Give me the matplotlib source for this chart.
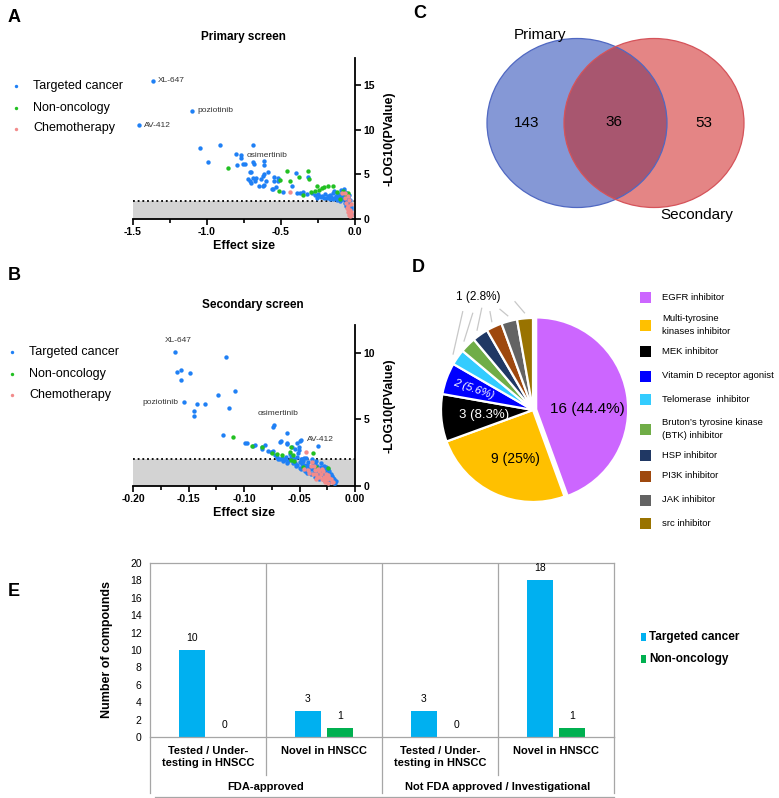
import matplotlib
matplotlib.use('Agg')
import matplotlib.pyplot as plt
from matplotlib.patches import Ellipse, Rectangle
import numpy as np

plt.rcParams['font.family'] = ['Liberation Sans', 'DejaVu Sans']
NARROW = ['Liberation Sans Narrow', 'Liberation Sans', 'DejaVu Sans']

# ---------------- data ----------------
# Panel A: primary screen (effect size, -log10 p)
a_t_x = [-1.367, -1.10, -1.46, -1.05, -0.91, -0.69, -0.99, -0.806, -0.77, -0.77, -0.795, -0.76, -0.74,
         -0.687, -0.685, -0.615, -0.617, -0.71, -0.70, -0.59, -0.615, -0.62, -0.725, -0.69, -0.67, -0.71,
         -0.70, -0.676, -0.633, -0.60, -0.547, -0.52, -0.55, -0.52, -0.65, -0.625, -0.615, -0.563, -0.534,
         -0.556, -0.484, -0.40, -0.424, -0.315, -0.394, -0.37, -0.35, -0.326, -0.29, -0.27, -0.25, -0.23,
         -0.22, -0.20, -0.19, -0.18, -0.17, -0.16, -0.15, -0.14, -0.13, -0.12, -0.12, -0.11, -0.10, -0.10,
         -0.09, -0.09, -0.08, -0.08, -0.07, -0.07, -0.065, -0.06, -0.06, -0.055, -0.05, -0.05, -0.045,
         -0.04, -0.04, -0.035, -0.03, -0.03, -0.14, -0.11, -0.095, -0.075,
         -0.26, -0.24, -0.21, -0.17, -0.15, -0.13, -0.11, -0.09, -0.075, -0.06, -0.055, -0.045, -0.04,
         -0.035, -0.032, -0.028, -0.025, -0.05]
a_t_y = [15.4, 12.1, 10.5, 7.9, 8.3, 8.25, 6.35, 7.3, 7.1, 6.8, 6.05, 6.2, 6.2,
         6.4, 6.1, 6.5, 6.0, 5.3, 5.2, 5.25, 5.0, 4.85, 4.5, 4.6, 4.6, 4.25,
         4.05, 4.2, 4.45, 4.3, 4.65, 4.6, 4.3, 4.3, 3.7, 3.65, 3.75, 3.4, 3.55,
         3.35, 3.05, 5.15, 3.7, 4.75, 2.9, 2.95, 3.0, 2.8, 2.9, 2.7, 2.85, 2.5,
         2.6, 2.8, 2.4, 2.6, 2.2, 2.5, 2.9, 2.3, 2.6, 2.1, 2.9, 2.4, 2.7, 2.0,
         2.5, 3.0, 2.2, 2.8, 1.8, 2.6, 3.0, 2.3, 1.5, 2.7, 2.0, 1.2, 2.5,
         1.6, 0.9, 2.1, 1.3, 0.6, 3.1, 2.2, 3.2, 3.3,
         2.3, 2.6, 2.3, 2.7, 2.2, 2.4, 2.7, 2.2, 2.5, 2.9, 2.1, 1.9, 2.7,
         1.5, 0.8, 1.1, 0.5, 1.6]
a_n_x = [-0.86, -0.507, -0.516, -0.46, -0.378, -0.32, -0.309, -0.35, -0.30, -0.24, -0.255, -0.223,
         -0.21, -0.18, -0.147, -0.12, -0.10, -0.08, -0.06, -0.05, -0.44, -0.27]
a_n_y = [5.75, 4.35, 3.15, 5.37, 4.65, 5.37, 4.5, 2.7, 3.0, 3.25, 3.7, 3.5,
         3.55, 3.7, 3.65, 3.0, 2.2, 3.1, 2.6, 2.9, 4.2, 3.1]
a_c_x = [-0.437, -0.09, -0.07, -0.06, -0.055, -0.05, -0.045, -0.04, -0.04, -0.035, -0.03, -0.03,
         -0.025, -0.05, -0.065, -0.035, -0.028, -0.045]
a_c_y = [3.0, 2.9, 2.3, 1.8, 1.2, 0.8, 1.5, 0.5, 2.1, 1.0, 0.4, 1.7,
         0.8, 2.6, 2.9, 0.3, 0.5, 1.1]
a_labels = ['XL-647', 'poziotinib', 'AV-412', 'osimertinib']
a_label_idx = [0, 1, 2, 8]

# Panel B: secondary screen
b_t_x = [-0.162, -0.116, -0.160, -0.157, -0.149, -0.157, -0.108, -0.123, -0.154, -0.142, -0.135,
         -0.145, -0.145, -0.1135, -0.073, -0.0736, -0.0616, -0.119, -0.0486, -0.052, -0.0505, -0.0667,
         -0.0676, -0.0616, -0.0336, -0.0988, -0.097, -0.090, -0.0916, -0.081, -0.084, -0.084, -0.078,
         -0.076, -0.074, -0.061, -0.057, -0.054, -0.0507, -0.0495,
         -0.070, -0.066, -0.062, -0.060, -0.058, -0.056, -0.055, -0.053, -0.052, -0.050, -0.049, -0.048,
         -0.046, -0.045, -0.044, -0.042, -0.041, -0.040, -0.039, -0.038, -0.037, -0.036, -0.035, -0.034,
         -0.033, -0.032, -0.031, -0.030, -0.029, -0.028, -0.027, -0.026, -0.025, -0.024, -0.023, -0.022,
         -0.021, -0.020, -0.019, -0.018, -0.064, -0.068, -0.043, -0.047, -0.072, -0.059, -0.051,
         -0.069, -0.065, -0.063, -0.061, -0.057, -0.054, -0.052, -0.050, -0.048, -0.047, -0.045, -0.043,
         -0.042, -0.040, -0.038, -0.037, -0.036, -0.034, -0.033, -0.031, -0.030, -0.029, -0.028, -0.027,
         -0.026, -0.025, -0.024, -0.023, -0.022, -0.021, -0.020, -0.019, -0.018, -0.017, -0.056, -0.049,
         -0.046]
b_t_y = [10.07, 9.7, 8.55, 8.7, 8.47, 7.95, 7.17, 6.85, 6.3, 6.2, 6.17,
         5.6, 5.26, 5.84, 4.6, 4.44, 4.0, 3.86, 3.43, 3.2, 2.9, 3.4,
         3.3, 3.15, 3.03, 3.26, 3.2, 3.06, 3.03, 3.06, 2.9, 2.75, 2.63,
         2.58, 2.63, 3.2, 2.9, 2.76, 2.7, 3.4,
         2.2, 2.1, 2.15, 1.9, 2.2, 1.7, 2.0, 1.5, 2.2, 1.8, 1.3, 2.0,
         1.6, 1.1, 2.1, 1.8, 1.4, 0.9, 2.0, 1.6, 1.2, 0.7, 1.9, 1.5,
         1.0, 0.5, 1.7, 1.3, 0.8, 1.5, 0.4, 1.1, 0.7, 1.3, 0.3, 0.9,
         0.5, 0.6, 0.2, 0.4, 1.95, 2.0, 0.95, 1.4, 2.3, 2.4, 2.5,
         2.05, 1.85, 2.0, 1.75, 1.95, 1.75, 1.55, 1.35, 1.65, 1.85, 1.45, 1.6,
         1.1, 1.25, 1.4, 0.95, 1.7, 1.15, 0.75, 1.45, 1.05, 0.55, 1.25, 0.85,
         1.45, 1.0, 0.5, 1.1, 0.35, 0.75, 0.4, 0.55, 0.25, 0.35, 2.1, 2.05,
         2.1]
b_n_x = [-0.110, -0.093, -0.084, -0.058, -0.0586, -0.0556, -0.038, -0.0706, -0.066, -0.055, -0.047,
         -0.024, -0.058, -0.035, -0.075]
b_n_y = [3.7, 3.03, 2.96, 2.93, 2.53, 2.3, 2.5, 2.38, 2.3, 1.9, 1.45,
         1.35, 1.95, 1.4, 2.5]
b_c_x = [-0.044, -0.042, -0.040, -0.038, -0.036, -0.034, -0.033, -0.031, -0.030, -0.029, -0.028, -0.027,
         -0.026, -0.025, -0.024, -0.023, -0.021, -0.046, -0.039, -0.035, -0.032,
         -0.041, -0.037, -0.035, -0.032, -0.030, -0.028, -0.026, -0.024, -0.022, -0.020]
b_c_y = [2.55, 1.2, 1.5, 0.9, 1.2, 0.7, 1.3, 0.9, 0.5, 1.1, 0.7, 0.3,
         0.9, 0.5, 0.2, 0.6, 0.3, 1.3, 1.8, 0.5, 1.1,
         0.95, 1.5, 0.9, 0.65, 1.25, 0.45, 0.65, 0.85, 0.5, 0.3]
b_labels = ['XL-647', 'poziotinib', 'osimertinib', 'AV-412']
b_label_idx = [0, 8, 14, 18]

legend_names = ['Targeted cancer', 'Non-oncology', 'Chemotherapy']

# Panel C: Venn counts
venn_sets = ['Primary', 'Secondary']
venn_counts = [143, 36, 53]   # primary only, both, secondary only

# Panel D: pie
d_names = ['EGFR inhibitor', 'Multi-tyrosine\nkinases inhibitor', 'MEK inhibitor',
           'Vitamin D receptor agonist', 'Telomerase  inhibitor',
           'Bruton\u2019s tyrosine kinase\n(BTK) inhibitor', 'HSP inhibitor', 'PI3K inhibitor',
           'JAK inhibitor', 'src inhibitor']
d_vals = [16, 9, 3, 2, 1, 1, 1, 1, 1, 1]
d_pct = ['44.4%', '25%', '8.3%', '5.6%', '2.8%', '2.8%', '2.8%', '2.8%', '2.8%', '2.8%']
d_colors = ['#cc66ff', '#ffc000', '#000000', '#0000ff', '#33ccff', '#70ad47',
            '#203864', '#9e480e', '#636363', '#997300']

# Panel E: grouped bars
e_cats = ['Tested / Under-\ntesting in HNSCC', 'Novel in HNSCC',
          'Tested / Under-\ntesting in HNSCC', 'Novel in HNSCC']
e_groups = ['FDA-approved', 'Not FDA approved / Investigational']
e_series = ['Targeted cancer', 'Non-oncology']
e_targeted = [10, 3, 3, 18]
e_nononc = [0, 1, 0, 1]

BLUE = '#1f80f5'
GREEN = '#22c022'
PINK = '#f28b8b'

W, H = 779, 798
fig = plt.figure(figsize=(W / 100, H / 100), dpi=100)


def px_axes(l, t, r, b):
    return fig.add_axes([l / W, 1 - b / H, (r - l) / W, (b - t) / H])


def volcano(ax, tx, ty, nx, ny, cx, cy, xlim, ylim, xticks, xtl, minor, yticks, labels, idx, offs):
    ax.add_patch(Rectangle((xlim[0], 0), xlim[1] - xlim[0], 2.0, facecolor='#d3d3d3', lw=0, zorder=0))
    ax.plot(xlim, [2.0, 2.0], color='black', ls=(0, (1, 1.6)), lw=1.3, zorder=1)
    ax.scatter(tx, ty, s=10, color=BLUE, lw=0, zorder=3)
    ax.scatter(nx, ny, s=10, color=GREEN, lw=0, zorder=3)
    ax.scatter(cx, cy, s=10, color=PINK, lw=0, zorder=4)
    for lab, i, (dx, dy, ha) in zip(labels, idx, offs):
        ax.annotate(lab, (tx[i], ty[i]), xytext=(dx, dy), textcoords='offset points',
                    ha=ha, va='center', fontsize=6, color='#333333')
    ax.set_xlim(*xlim)
    ax.set_ylim(*ylim)
    ax.set_xticks(xticks)
    ax.set_xticklabels(xtl, fontweight='bold', fontsize=7.5)
    ax.set_xticks(minor, minor=True)
    ax.set_yticks(yticks)
    ax.set_yticklabels([str(v) for v in yticks], fontweight='bold', fontsize=7.5)
    ax.yaxis.tick_right()
    ax.yaxis.set_label_position('right')
    for s in ['left', 'top']:
        ax.spines[s].set_visible(False)
    for s in ['right', 'bottom']:
        ax.spines[s].set_linewidth(1.3)
    ax.tick_params(which='both', direction='out', width=1.2, pad=2)
    ax.tick_params(which='major', length=4)
    ax.tick_params(which='minor', length=3)
    ax.set_xlabel('Effect size', fontweight='bold', fontsize=9, labelpad=2)
    ax.set_ylabel('-LOG10(PValue)', fontweight='bold', fontsize=9, labelpad=6)
    ax.patch.set_visible(False)


# Panel A
axA = px_axes(133, 58, 355, 219)
volcano(axA, a_t_x, a_t_y, a_n_x, a_n_y, a_c_x, a_c_y, (-1.5, 0.0), (0, 18.0),
        [-1.5, -1.0, -0.5, 0.0], ['-1.5', '-1.0', '-0.5', '0.0'], [-1.25, -0.75, -0.25],
        [0, 5, 10, 15], a_labels, a_label_idx,
        [(4, 0.5, 'left'), (4, 0, 'left'), (4, 0, 'left'), (4, 0, 'left')])

# Panel B
axB = px_axes(133, 325, 355, 486)
volcano(axB, b_t_x, b_t_y, b_n_x, b_n_y, b_c_x, b_c_y, (-0.2, 0.0), (0, 12.1),
        [-0.20, -0.15, -0.10, -0.05, 0.0], ['-0.20', '-0.15', '-0.10', '-0.05', '0.00'],
        [-0.175, -0.125, -0.075, -0.025],
        [0, 5, 10], b_labels, b_label_idx,
        [(2, 8, 'center'), (-4, 0, 'right'), (3, 8, 'center'), (4, 0.5, 'left')])

# Panel D pie
cxp, cyp, R = 533, 410, 92
axD = px_axes(cxp - 100, cyp - 100, cxp + 100, cyp + 100)
explode = [0.035] + [0] * 9
wedges, _ = axD.pie(d_vals, colors=d_colors, startangle=90, counterclock=False, explode=explode,
                    radius=1, wedgeprops=dict(edgecolor='white', linewidth=1.6))
axD.set_xlim(-100 / R, 100 / R)
axD.set_ylim(-100 / R, 100 / R)
axD.set_aspect('equal')
axD.axis('off')
fr = np.array(d_vals) / sum(d_vals)
cum = np.concatenate([[0], np.cumsum(fr)]) * 360


def pol(i, r):
    mid = (cum[i] + cum[i + 1]) / 2
    a = np.deg2rad(90 - mid)
    return r * np.cos(a), r * np.sin(a)


def pxp(px, py):
    return (px - cxp) / R, (cyp - py) / R


axD.text(*pxp(587, 409), f'{d_vals[0]} ({d_pct[0]})', fontsize=11, ha='center', va='center')
axD.text(*pxp(515, 459), f'{d_vals[1]} ({d_pct[1]})', fontsize=10, ha='center', va='center')
axD.text(*pxp(484, 415), f'{d_vals[2]} ({d_pct[2]})', fontsize=9.5, ha='center', va='center',
         color='white')
axD.text(*pxp(474, 389), f'{d_vals[3]} ({d_pct[3]})', fontsize=8, ha='center', va='center',
         color='white', rotation=-19, style='italic')
ends = [(462.7, 311.7), (472.7, 313.3), (481.7, 308.3), (490, 311.7), (500, 309.3), (515, 301.7)]
for k, i in enumerate(range(4, 10)):
    sx, sy = pol(i, 1.06)
    ex, ey = pxp(*ends[k])
    axD.plot([sx, ex], [sy, ey], color='#c8c8c8', lw=0.9, clip_on=False)

# Panel E bars
axE = px_axes(150, 563, 614, 737)
xs = np.arange(len(e_cats))
bw = 0.22
axE.bar(xs - 0.14, e_targeted, bw, color='#00b0f0', zorder=2)
axE.bar(xs + 0.14, e_nononc, bw, color='#00b050', zorder=2)
for xi, v in zip(xs, e_targeted):
    axE.text(xi - 0.14, v + 0.8, str(v), ha='center', va='bottom', fontsize=7.5, family=NARROW)
for xi, v in zip(xs, e_nononc):
    axE.text(xi + 0.14, v + 0.8, str(v), ha='center', va='bottom', fontsize=7.5, family=NARROW)
axE.set_xlim(-0.5, 3.5)
axE.set_ylim(0, 20)
axE.set_yticks(range(0, 21, 2))
axE.set_yticklabels([str(v) for v in range(0, 21, 2)], fontsize=7.5, family=NARROW)
axE.tick_params(axis='y', length=0, pad=6)
axE.set_xticks([])
for s in axE.spines.values():
    s.set_color('#a6a6a6')
    s.set_linewidth(0.9)
for xv in [0.5, 1.5, 2.5]:
    axE.axvline(xv, color='#a6a6a6', lw=0.9, zorder=1)
tr = axE.get_xaxis_transform()
for xv in [0.5, 2.5]:
    axE.plot([xv, xv], [0, -0.22], transform=tr, color='#a6a6a6', lw=0.9, clip_on=False)
for xv in [-0.5, 1.5, 3.5]:
    axE.plot([xv, xv], [0, -0.32], transform=tr, color='#a6a6a6', lw=0.9, clip_on=False)
axE.plot([-0.46, 3.5], [-0.345, -0.345], transform=tr, color='#a6a6a6', lw=0.9, clip_on=False)
for xi, lab in zip(xs, e_cats):
    axE.text(xi, -0.05, lab, transform=tr, ha='center', va='top', fontsize=8, fontweight='bold',
             family=NARROW, linespacing=1.25)
for gi, g in enumerate(e_groups):
    axE.text(2 * gi + 0.5, -0.285, g, transform=tr, ha='center', va='center', fontsize=8,
             fontweight='bold', family=NARROW)
axE.set_ylabel('Number of compounds', fontsize=9, fontweight='bold', labelpad=12)

# ---------------- overlay (pixel coordinates) ----------------
ov = fig.add_axes([0, 0, 1, 1])
ov.set_xlim(0, W)
ov.set_ylim(H, 0)
ov.axis('off')
ov.patch.set_visible(False)

# panel letters
for lt, (lx, ly) in zip('ABCDE', [(14, 18), (14, 276), (420, 14), (418, 268), (14, 592)]):
    ov.text(lx, ly, lt, fontsize=13, fontweight='bold', ha='center', va='center')

# volcano titles and legends
ov.text(243, 37, 'Primary screen', fontsize=8.5, fontweight='bold', ha='center', va='center')
ov.text(253, 305, 'Secondary screen', fontsize=8.5, fontweight='bold', ha='center', va='center')
for (mx, tx0, ys) in [(16.5, 33, [85.5, 107.5, 128.5]), (12.5, 29.5, [352, 374, 395])]:
    for col, nm, yy in zip([BLUE, GREEN, PINK], legend_names, ys):
        ov.scatter([mx], [yy], s=6, color=col, lw=0)
        ov.text(tx0, yy, nm, fontsize=9, va='center', ha='left')

# Venn
blue_e = Ellipse((577, 123), 180, 169, facecolor='#8598d6', edgecolor='none')
red_e = Ellipse((654, 123), 180, 169, facecolor='#e48585', edgecolor='none')
ov.add_patch(blue_e)
ov.add_patch(red_e)
lens = Ellipse((654, 123), 180, 169, facecolor='#a8566f', edgecolor='none')
ov.add_patch(lens)
lens.set_clip_path(blue_e)
ov.add_patch(Ellipse((577, 123), 180, 169, facecolor='none', edgecolor='#5068c2', lw=0.9))
ov.add_patch(Ellipse((654, 123), 180, 169, facecolor='none', edgecolor='#d5535a', lw=0.9))
ov.text(527, 123, str(venn_counts[0]), fontsize=11, ha='center', va='center')
ov.text(614, 122, str(venn_counts[1]), fontsize=11, ha='center', va='center')
ov.text(704, 123, str(venn_counts[2]), fontsize=11, ha='center', va='center')
ov.text(540, 35, venn_sets[0], fontsize=11, ha='center', va='center')
ov.text(697, 215, venn_sets[1], fontsize=11, ha='center', va='center')

# pie "1 (2.8%)" callout
ov.text(478, 297, f'{d_vals[4]} ({d_pct[4]})', fontsize=8.5, ha='center', va='center')

# pie legend
leg_y = [297, 325, 351, 376, 399, 429, 455, 476, 500, 523]
for col, nm, yy in zip(d_colors, d_names, leg_y):
    ov.add_patch(Rectangle((640, yy - 5.5), 11, 11, facecolor=col, edgecolor='none'))
    ov.text(662, yy, nm, fontsize=6.8, ha='left', va='center', linespacing=1.45)

# bar legend
for col, nm, yy in zip(['#00b0f0', '#00b050'], e_series, [637, 659]):
    ov.add_patch(Rectangle((641, yy - 4), 5.5, 8, facecolor=col, edgecolor='none'))
    ov.text(649, yy, nm, fontsize=8.5, fontweight='bold', ha='left', va='center', family=NARROW)

fig.savefig('out.png', dpi=100)
